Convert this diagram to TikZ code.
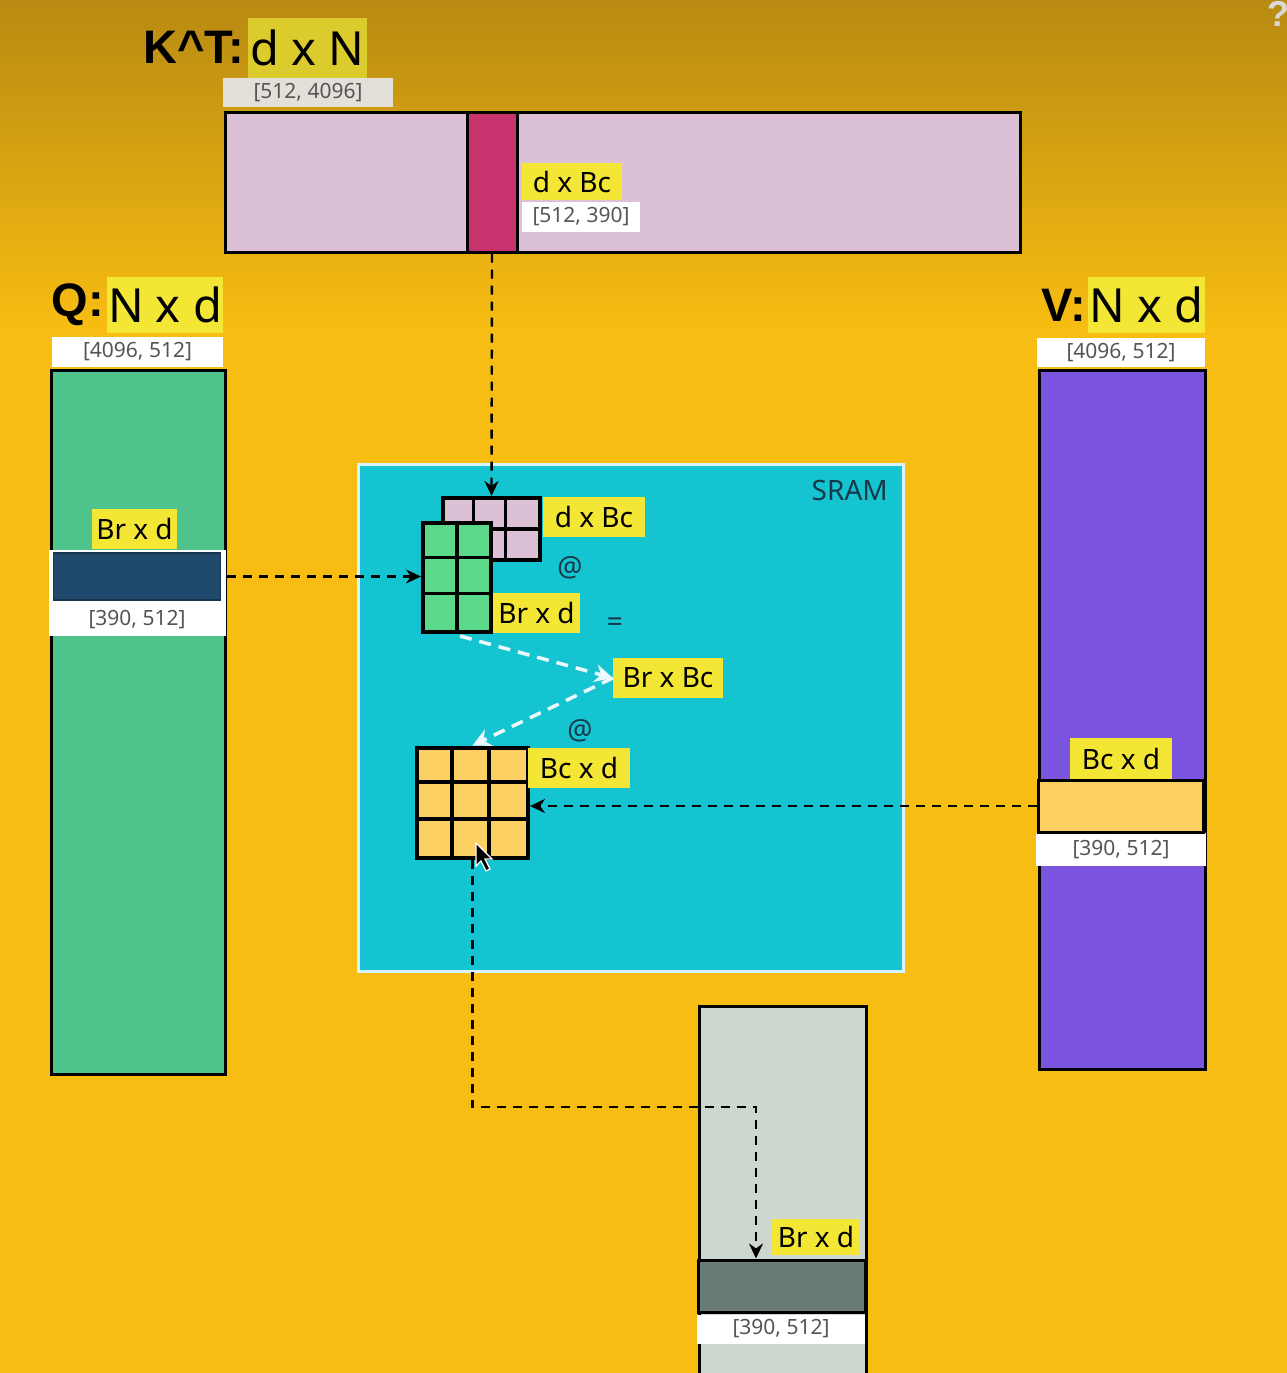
\documentclass[tikz,border=0pt]{standalone}
\usepackage{fontspec}
\setmainfont{Noto Sans}
\newfontfamily\boldtitlefont{Liberation Sans}
\usetikzlibrary{arrows.meta}
\definecolor{bgtop}{HTML}{B88A12}
\definecolor{bgmain}{HTML}{F8BD12}
\definecolor{hl}{HTML}{F4E634}
\definecolor{hldim}{HTML}{DCCB2C}
\definecolor{kpink}{HTML}{DCC1D6}
\definecolor{kstrip}{HTML}{C8336E}
\definecolor{qgreen}{HTML}{4EC48C}
\definecolor{ggreen}{HTML}{5CD88A}
\definecolor{navy}{HTML}{1F4A6E}
\definecolor{vpurple}{HTML}{7B55E0}
\definecolor{ogold}{HTML}{FCD062}
\definecolor{sramc}{HTML}{14C4D0}
\definecolor{outgray}{HTML}{CED6D0}
\definecolor{outdark}{HTML}{6A7B77}
\definecolor{lbltext}{HTML}{555555}
\definecolor{dimtop}{HTML}{E2E0D8}
\definecolor{sramtext}{HTML}{183848}
\begin{document}
\begin{tikzpicture}[x=1pt,y=-1pt,
  mat/.style={draw=black, line width=3pt, inner sep=0pt},
  gridbox/.style={draw=black, line width=4pt, inner sep=0pt},
  gridline/.style={draw=black, line width=3.5pt},
  hlbox/.style={fill=hl, inner sep=0pt, font=\fontsize{28}{30}\selectfont},
  dimbox/.style={fill=white, inner sep=0pt, text=lbltext, font=\fontsize{21}{23}\selectfont},
  titlebox/.style={fill=hl, inner sep=0pt, font=\fontsize{47}{50}\selectfont},
  titlelbl/.style={inner sep=0pt, font=\boldtitlefont\fontsize{47}{50}\selectfont\bfseries},
  blackdash/.style={draw=black, line width=2.4pt, dash pattern=on 9pt off 7pt, -{Stealth[length=15pt,width=14pt]}},
  whitedash/.style={draw=white!92!cyan, line width=3.5pt, dash pattern=on 12pt off 8pt, -{Stealth[length=18pt,width=18pt,fill=white]}},
  symb/.style={inner sep=0pt, text=sramtext, font=\fontsize{28}{30}\selectfont}
]
\clip (0,0) rectangle (1287,1373);
% background
\fill[bgmain] (0,0) rectangle (1287,1373);
\shade[top color=bgtop, bottom color=bgmain] (0,0) rectangle (1287,330);

% help mark
\node[inner sep=0pt, text=gray!30, font=\boldtitlefont\fontsize{36}{36}\selectfont\bfseries] (help) at (1278,14) {?};

% ---------- K^T ----------
\node[titlelbl, anchor=east] (kttitle) at (244,47) {K\textasciicircum T:};
\node[titlebox, fill=hldim, minimum width=119pt, minimum height=60pt] (ktdim) at (307.5,48) {d x N};
\node[dimbox, fill=dimtop, minimum width=170pt, minimum height=29pt] (ktsize) at (308,92.5) {[512, 4096]};
\node[mat, fill=kpink, minimum width=795pt, minimum height=140pt] (kt) at (622.5,182) {};
\node[mat, fill=kstrip, minimum width=50pt, minimum height=140pt] (ktstrip) at (492,182) {};
\node[hlbox, minimum width=100pt, minimum height=37pt] (ktlbl) at (572,181.5) {d x Bc};
\node[dimbox, minimum width=118pt, minimum height=30pt] (ktblk) at (581,217) {[512, 390]};

% ---------- Q ----------
\node[titlelbl, anchor=east] (qtitle) at (104,305) {Q:};
\node[titlebox, minimum width=116pt, minimum height=56pt] (qdim) at (165,305) {N x d};
\node[dimbox, minimum width=171pt, minimum height=30pt] (qsize) at (137.5,352) {[4096, 512]};
\node[mat, fill=qgreen, minimum width=174pt, minimum height=704pt, anchor=north west] (q) at (50,369) {};
\node[hlbox, minimum width=85pt, minimum height=40pt] (qlbl) at (134.5,529) {Br x d};
\fill[white] (49,550) rectangle (226,636);
\node[draw=navy!70!black, line width=1.5pt, fill=navy, inner sep=0pt, minimum width=167pt, minimum height=47pt] (qblk) at (137,576.5) {};
\node[dimbox, minimum width=170pt, minimum height=32pt] (qblksize) at (137,620) {[390, 512]};

% ---------- V ----------
\node[titlelbl, anchor=east] (vtitle) at (1086,305) {V:};
\node[titlebox, minimum width=117pt, minimum height=56pt] (vdim) at (1146.5,305) {N x d};
\node[dimbox, minimum width=168pt, minimum height=29pt] (vsize) at (1121,352.5) {[4096, 512]};
\node[mat, fill=vpurple, minimum width=166pt, minimum height=699pt, anchor=north west] (v) at (1038,369) {};
\node[hlbox, minimum width=102pt, minimum height=41pt] (vlbl) at (1121,758.5) {Bc x d};
\fill[white] (1036,833) rectangle (1206,866);
\node[mat, fill=ogold, minimum width=165pt, minimum height=52pt] (vblk) at (1120.5,806) {};
\node[dimbox, minimum width=168pt, minimum height=30pt] (vblksize) at (1121,850) {[390, 512]};

% ---------- Output ----------
\node[mat, fill=outgray, minimum width=167pt, minimum height=400pt, anchor=north west] (o) at (698,1005) {};
\node[mat, fill=outdark, minimum width=167pt, minimum height=52pt] (oblk) at (781.5,1286) {};
\node[dimbox, minimum width=168pt, minimum height=29pt] (oblksize) at (781,1329) {[390, 512]};
\node[hlbox, minimum width=88pt, minimum height=36pt] (olbl) at (816,1237) {Br x d};

% ---------- SRAM ----------
\node[draw=white!85!cyan, line width=3pt, fill=sramc, inner sep=0pt, minimum width=545pt, minimum height=507pt] (sram) at (631,718) {};
\node[inner sep=0pt, text=sramtext, font=\fontsize{28}{30}\selectfont, anchor=north east] (sramlbl) at (888,480) {SRAM};

% pink grid (K block, 3x2)
\node[gridbox, fill=kpink, minimum width=97pt, minimum height=62pt] (pg) at (491.5,529) {};
\foreach \i in {1,2} \draw[gridline] (pg.north west) ++(97*\i/3,0) -- ++(0,62);
\draw[gridline] (pg.west) -- (pg.east);
% green grid (Q block, 2x3)
\node[gridbox, fill=ggreen, minimum width=68pt, minimum height=109pt] (gg) at (457,577.5) {};
\draw[gridline] (gg.north) -- (gg.south);
\foreach \i in {1,2} \draw[gridline] (gg.north west) ++(0,109*\i/3) -- ++(68,0);
% orange grid (V block / result, 3x3)
\node[gridbox, fill=ogold, minimum width=111pt, minimum height=110pt] (og) at (472.5,802.5) {};
\foreach \i in {1,2} \draw[gridline] (og.north west) ++(111*\i/3,0) -- ++(0,110);
\foreach \i in {1,2} \draw[gridline] (og.north west) ++(0,110*\i/3) -- ++(111,0);

\node[hlbox, minimum width=102pt, minimum height=40pt] (pglbl) at (594,517) {d x Bc};
\node[symb] (at1) at (570,568) {@};
\node[hlbox, minimum width=87pt, minimum height=40pt] (gglbl) at (536.5,613) {Br x d};
\node[symb] (eq) at (615,625) {=};
\node[hlbox, minimum width=110pt, minimum height=40pt] (sblk) at (668,678) {Br x Bc};
\node[symb] (at2) at (580,731) {@};
\node[hlbox, minimum width=102pt, minimum height=40pt] (oglbl) at (579,768) {Bc x d};

% ---------- connectors ----------
\draw[blackdash] (ktstrip.south) -- (pg.north);
\draw[blackdash] (qblk.east) ++(6,0) coordinate (qstart) -- (qstart -| gg.west);
\draw[blackdash] (vblk.west) -- (vblk.west -| og.east);
\coordinate (turn) at (756,1107);
\draw[blackdash] (og.south) |- (turn) -- (turn |- oblk.north);
\coordinate (wstart) at (460,636);
\draw[whitedash] (wstart) -- (sblk.west);
\draw[whitedash] (sblk.west) -- (og.north);

% mouse cursor
\filldraw[fill=black, draw=white, line width=1.2pt] (476,843) -- (476,866) -- (481,861) -- (486,871) -- (490,869) -- (485,859) -- (492,859) -- cycle;
\end{tikzpicture}
\end{document}
